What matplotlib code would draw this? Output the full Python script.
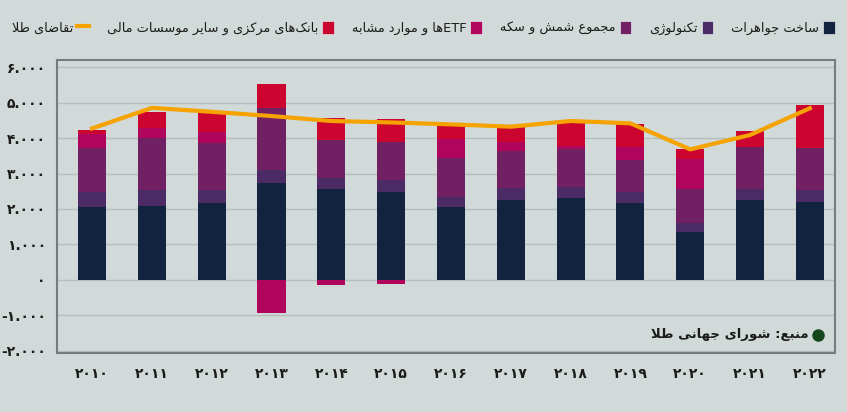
import re
import numpy as np
import matplotlib
matplotlib.use("Agg")
import matplotlib.pyplot as plt
from matplotlib.patches import Patch
from matplotlib.lines import Line2D

# data (tonnes)
years = ["۲۰۱۰", "۲۰۱۱", "۲۰۱۲", "۲۰۱۳", "۲۰۱۴", "۲۰۱۵", "۲۰۱۶",
         "۲۰۱۷", "۲۰۱۸", "۲۰۱۹", "۲۰۲۰", "۲۰۲۱", "۲۰۲۲"]
jewellery = [2050, 2085, 2160, 2725, 2565, 2490, 2065, 2255, 2300, 2180, 1360, 2255, 2190]
technology = [440, 450, 375, 375, 320, 330, 265, 330, 330, 290, 255, 310, 345]
bar_coin = [1220, 1475, 1315, 1735, 1060, 1060, 1115, 1050, 1050, 910, 940, 1190, 1190]
etfs = [395, 265, 310, -920, -150, -105, 520, 265, 95, 375, 855, 0, 0]
central_banks = [120, 470, 565, 680, 610, 650, 375, 405, 640, 640, 280, 450, 1200]
total_demand = [4270, 4850, 4740, 4620, 4480, 4440, 4385, 4320, 4480, 4415, 3680, 4085, 4840]

labels = ["ساخت جواهرات", "تکنولوژی", "مجموع شمش و سکه",
          "ETFها و موارد مشابه", "بانک‌های مرکزی و سایر موسسات مالی"]
line_label = "تقاضای طلا"
source_label = "منبع: شورای جهانی طلا"
colors = ["#12233f", "#4b2a66", "#722064", "#b0055d", "#cc0530"]

BG = "#d1dad9"

# --- minimal persian shaping (matplotlib has no bidi / joining) ---
FORMS = {
    "ا": ("\uFE8D", "\uFE8E", None, None), "آ": ("\uFE81", "\uFE82", None, None),
    "ب": ("\uFE8F", "\uFE90", "\uFE91", "\uFE92"), "پ": ("\uFB56", "\uFB57", "\uFB58", "\uFB59"),
    "ت": ("\uFE95", "\uFE96", "\uFE97", "\uFE98"), "ث": ("\uFE99", "\uFE9A", "\uFE9B", "\uFE9C"),
    "ج": ("\uFE9D", "\uFE9E", "\uFE9F", "\uFEA0"), "چ": ("\uFB7A", "\uFB7B", "\uFB7C", "\uFB7D"),
    "ح": ("\uFEA1", "\uFEA2", "\uFEA3", "\uFEA4"), "خ": ("\uFEA5", "\uFEA6", "\uFEA7", "\uFEA8"),
    "د": ("\uFEA9", "\uFEAA", None, None), "ذ": ("\uFEAB", "\uFEAC", None, None),
    "ر": ("\uFEAD", "\uFEAE", None, None), "ز": ("\uFEAF", "\uFEB0", None, None),
    "ژ": ("\uFB8A", "\uFB8B", None, None),
    "س": ("\uFEB1", "\uFEB2", "\uFEB3", "\uFEB4"), "ش": ("\uFEB5", "\uFEB6", "\uFEB7", "\uFEB8"),
    "ص": ("\uFEB9", "\uFEBA", "\uFEBB", "\uFEBC"), "ض": ("\uFEBD", "\uFEBE", "\uFEBF", "\uFEC0"),
    "ط": ("\uFEC1", "\uFEC2", "\uFEC3", "\uFEC4"), "ظ": ("\uFEC5", "\uFEC6", "\uFEC7", "\uFEC8"),
    "ع": ("\uFEC9", "\uFECA", "\uFECB", "\uFECC"), "غ": ("\uFECD", "\uFECE", "\uFECF", "\uFED0"),
    "ف": ("\uFED1", "\uFED2", "\uFED3", "\uFED4"), "ق": ("\uFED5", "\uFED6", "\uFED7", "\uFED8"),
    "ک": ("\uFB8E", "\uFB8F", "\uFB90", "\uFB91"), "گ": ("\uFB92", "\uFB93", "\uFB94", "\uFB95"),
    "ل": ("\uFEDD", "\uFEDE", "\uFEDF", "\uFEE0"), "م": ("\uFEE1", "\uFEE2", "\uFEE3", "\uFEE4"),
    "ن": ("\uFEE5", "\uFEE6", "\uFEE7", "\uFEE8"), "و": ("\uFEED", "\uFEEE", None, None),
    "ه": ("\uFEE9", "\uFEEA", "\uFEEB", "\uFEEC"), "ی": ("\uFBFC", "\uFBFD", "\uFBFE", "\uFBFF"),
}


def fa(text):
    chars = list(text)
    out = []
    i = 0
    while i < len(chars):
        c = chars[i]
        if c == "\u200c":
            i += 1
            continue
        if c not in FORMS:
            out.append(c)
            i += 1
            continue
        prev = chars[i - 1] if i > 0 else None
        after_prev = prev in FORMS and FORMS[prev][2] is not None
        if c == "ل" and i + 1 < len(chars) and chars[i + 1] == "ا":
            out.append("\uFEFC" if after_prev else "\uFEFB")
            i += 2
            continue
        nxt = chars[i + 1] if i + 1 < len(chars) else None
        to_next = FORMS[c][2] is not None and nxt in FORMS
        iso, fin, ini, med = FORMS[c]
        if after_prev and to_next:
            out.append(med)
        elif after_prev:
            out.append(fin)
        elif to_next:
            out.append(ini)
        else:
            out.append(iso)
        i += 1
    vis = "".join(out)[::-1]
    return re.sub(r"[A-Za-z0-9]+", lambda m: m.group()[::-1], vis)


def fa_num(v, pos=None):
    s = f"{int(v):,}".replace(",", ".")
    return s.translate(str.maketrans("0123456789", "۰۱۲۳۴۵۶۷۸۹"))


plt.rcParams["font.family"] = ["DejaVu Sans"]

fig = plt.figure(figsize=(8.47, 4.12), dpi=100, facecolor=BG)
ax = fig.add_axes([0.0673, 0.1432, 0.9185, 0.7112], facecolor=BG)

x = np.arange(len(years))
series = [jewellery, technology, bar_coin, etfs, central_banks]
pos_cum = np.zeros(len(years))
neg_cum = np.zeros(len(years))
for vals, col in zip(series, colors):
    vals = np.array(vals, dtype=float)
    bottom = np.where(vals >= 0, pos_cum, neg_cum)
    ax.bar(x, vals, bottom=bottom, width=0.47, color=col, zorder=2, linewidth=0)
    pos_cum += np.where(vals > 0, vals, 0)
    neg_cum += np.where(vals < 0, vals, 0)

ax.plot(x, total_demand, color="#f4a300", lw=3, zorder=3, solid_joinstyle="round")

ax.set_xlim(-0.585, 12.42)
ax.set_ylim(-2060, 6200)
ax.set_yticks(np.arange(-2000, 6001, 1000))
ax.yaxis.set_major_formatter(plt.FuncFormatter(fa_num))
ax.set_xticks(x)
ax.set_xticklabels(years)
ax.tick_params(length=0, labelsize=10, labelcolor="#1b1b1b", pad=8)
for t in ax.get_xticklabels() + ax.get_yticklabels():
    t.set_fontweight("bold")
ax.tick_params(axis="x", pad=10)

ax.yaxis.grid(True, color="#b4bebd", lw=1, zorder=0)
ax.set_axisbelow(True)
for sp in ax.spines.values():
    sp.set_color("#777d7e")
    sp.set_linewidth(1.5)

# source note
ax.plot([0.978], [0.062], "o", color="#14461c", ms=8, transform=ax.transAxes, clip_on=False)
ax.text(0.966, 0.062, fa(source_label), transform=ax.transAxes, ha="right", va="center",
        fontsize=9.5, color="#1b1b1b", fontweight="bold")

# legend, right-to-left
handles = [Line2D([0], [0], color="#f4a300", lw=3)]
names = [fa(line_label)]
for lab, col in list(zip(labels, colors))[::-1]:
    handles.append(Patch(facecolor=col, edgecolor="#dfe6e5", lw=0.5))
    names.append(fa(lab))
fig.legend(handles, names, loc="center", bbox_to_anchor=(0.5, 0.932), ncol=6,
           frameon=False, markerfirst=False, fontsize=9.3, handlelength=0.9,
           handleheight=1.2, handletextpad=0.3, columnspacing=1.4,
           labelcolor="#1b1b1b")

fig.savefig("out.png", dpi=100, facecolor=BG)
